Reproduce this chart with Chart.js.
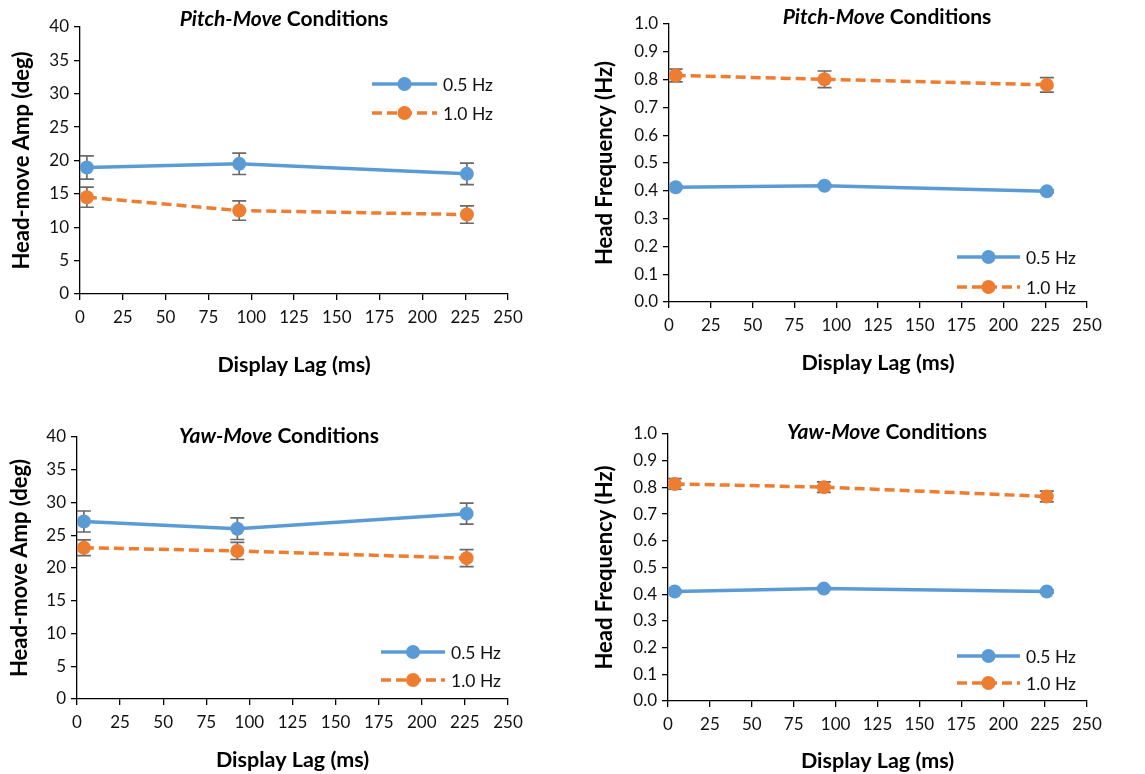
<!DOCTYPE html>
<html>
<head>
<meta charset="utf-8">
<script src="https://cdn.jsdelivr.net/npm/chart.js@4.4.1/dist/chart.umd.min.js"></script>
<style>
  body { margin: 0; background: #fff; }
  canvas { position: absolute; }
</style>
</head>
<body>
<canvas id="c1" width="572" height="385" style="left:0;top:0"></canvas>
<canvas id="c2" width="565" height="385" style="left:580px;top:0"></canvas>
<canvas id="c3" width="572" height="374" style="left:0;top:400px"></canvas>
<canvas id="c4" width="565" height="374" style="left:580px;top:400px"></canvas>
<script>
// display lag of the three conditions (ms)
const lagMs = [4, 93, 226];
const seriesLabels = ["0.5 Hz", "1.0 Hz"];

// pitch-move: head-move amplitude (deg) and SE
const pitchAmp05 = [18.95, 19.5, 18.0];
const pitchAmp05Err = [1.75, 1.6, 1.6];
const pitchAmp10 = [14.5, 12.5, 11.9];
const pitchAmp10Err = [1.5, 1.45, 1.3];

// pitch-move: head frequency (Hz)
const pitchFreq05 = [0.413, 0.418, 0.398];
const pitchFreq05Err = [0.005, 0.005, 0.005];
const pitchFreq10 = [0.815, 0.801, 0.781];
const pitchFreq10Err = [0.023, 0.03, 0.026];

// yaw-move: head-move amplitude (deg)
const yawAmp05 = [27.1, 26.0, 28.3];
const yawAmp05Err = [1.6, 1.65, 1.6];
const yawAmp10 = [23.1, 22.6, 21.5];
const yawAmp10Err = [1.2, 1.3, 1.3];

// yaw-move: head frequency (Hz)
const yawFreq05 = [0.41, 0.421, 0.41];
const yawFreq05Err = [0.005, 0.005, 0.005];
const yawFreq10 = [0.813, 0.801, 0.766];
const yawFreq10Err = [0.02, 0.02, 0.02];

const FONT = 'Lato, "Noto Sans", sans-serif';
const BLUE = "#5B9BD5";
const ORANGE = "#ED7D31";

const toPoints = (xs, ys) => xs.map((x, i) => ({ x: x, y: ys[i] }));

// vertical error bars with caps, drawn under the markers
const errorBars = {
    id: "errorBars",
    beforeDatasetsDraw(chart) {
        const ctx = chart.ctx;
        const xs = chart.scales.x, ys = chart.scales.y;
        ctx.save();
        ctx.strokeStyle = "#6a6a6a";
        ctx.lineWidth = 1.7;
        chart.data.datasets.forEach((ds) => {
            ds.data.forEach((p, i) => {
                const e = ds.err[i];
                const px = xs.getPixelForValue(p.x);
                const top = ys.getPixelForValue(p.y + e);
                const bot = ys.getPixelForValue(p.y - e);
                ctx.beginPath();
                ctx.moveTo(px, top); ctx.lineTo(px, bot);
                ctx.moveTo(px - 7, top); ctx.lineTo(px + 7, top);
                ctx.moveTo(px - 7, bot); ctx.lineTo(px + 7, bot);
                ctx.stroke();
            });
        });
        ctx.restore();
    },
};

// excel-style legend: line sample with a marker in the middle
const lineLegend = {
    id: "lineLegend",
    afterDraw(chart, args, opts) {
        const ctx = chart.ctx;
        chart.data.datasets.forEach((ds, i) => {
            const y = opts.y + i * opts.gap;
            ctx.save();
            ctx.strokeStyle = ds.borderColor;
            ctx.lineWidth = ds.borderWidth;
            ctx.setLineDash(ds.borderDash || []);
            ctx.beginPath();
            ctx.moveTo(opts.x, y);
            ctx.lineTo(opts.x + opts.len, y);
            ctx.stroke();
            ctx.setLineDash([]);
            ctx.fillStyle = ds.borderColor;
            ctx.beginPath();
            ctx.arc(opts.x + opts.len / 2, y, ds.pointRadius, 0, Math.PI * 2);
            ctx.fill();
            ctx.fillStyle = "#111";
            ctx.font = "17.5px " + FONT;
            ctx.textBaseline = "middle";
            ctx.fillText(ds.label, opts.x + opts.len + 6, y + 1);
            ctx.restore();
        });
    },
};

// title with an italic first part
const panelTitle = {
    id: "panelTitle",
    afterDraw(chart, args, opts) {
        const ctx = chart.ctx;
        const it = "italic bold 21px " + FONT, bd = "bold 21px " + FONT;
        ctx.save();
        ctx.font = it;
        const w1 = ctx.measureText(opts.italic).width;
        ctx.font = bd;
        const w2 = ctx.measureText(opts.rest).width;
        const x = opts.cx - (w1 + w2) / 2;
        ctx.fillStyle = "#000";
        ctx.textBaseline = "middle";
        ctx.font = it;
        ctx.fillText(opts.italic, x, opts.cy);
        ctx.font = bd;
        ctx.fillText(opts.rest, x + w1, opts.cy);
        ctx.restore();
    },
};

function axisGrid() {
    return {
        display: true,
        drawOnChartArea: false,
        drawTicks: true,
        tickLength: 6,
        color: "#000",
        lineWidth: 1.3,
    };
}

function makePanel(id, p) {
    new Chart(document.getElementById(id), {
        type: "line",
        data: {
            datasets: [
                {
                    label: seriesLabels[0],
                    data: toPoints(lagMs, p.slow),
                    err: p.slowErr,
                    borderColor: BLUE,
                    backgroundColor: BLUE,
                    pointBackgroundColor: BLUE,
                    borderWidth: 3.5,
                    pointRadius: 7,
                    pointBorderWidth: 0,
                },
                {
                    label: seriesLabels[1],
                    data: toPoints(lagMs, p.fast),
                    err: p.fastErr,
                    borderColor: ORANGE,
                    backgroundColor: ORANGE,
                    pointBackgroundColor: ORANGE,
                    borderWidth: 3.5,
                    borderDash: [10, 5],
                    pointRadius: 7,
                    pointBorderWidth: 0,
                },
            ],
        },
        options: {
            responsive: false,
            animation: false,
            layout: { padding: { top: p.top, right: p.right, left: 0, bottom: 0 } },
            plugins: {
                legend: { display: false },
                tooltip: { enabled: false },
                lineLegend: p.legend,
                panelTitle: p.title,
            },
            scales: {
                x: {
                    type: "linear",
                    min: 0,
                    max: 250,
                    grid: axisGrid(),
                    border: { color: "#000", width: 1.3 },
                    ticks: { stepSize: 25, color: "#111", padding: 7, maxRotation: 0, font: { family: FONT, size: 17 } },
                    title: {
                        display: true,
                        text: "Display Lag (ms)",
                        color: "#000",
                        font: { family: FONT, size: 21.5, weight: "bold" },
                        padding: { top: 0, bottom: p.xTitlePad },
                    },
                    afterFit: (s) => { s.height = p.xHeight; },
                },
                y: {
                    min: 0,
                    max: p.ymax,
                    grid: axisGrid(),
                    border: { color: "#000", width: 1.3 },
                    ticks: {
                        stepSize: p.ystep,
                        color: "#111",
                        padding: 5,
                        font: { family: FONT, size: 17 },
                        callback: (v) => (p.ymax === 1 ? v.toFixed(1) : v),
                    },
                    title: {
                        display: true,
                        text: p.yTitle,
                        color: "#000",
                        font: { family: FONT, size: 22, weight: "bold" },
                        padding: { top: p.yTitlePad, bottom: 0 },
                    },
                    afterFit: (s) => { s.width = p.yWidth; },
                },
            },
        },
        plugins: [errorBars, lineLegend, panelTitle],
    });
}

makePanel("c1", {
    slow: pitchAmp05, slowErr: pitchAmp05Err, fast: pitchAmp10, fastErr: pitchAmp10Err,
    ymax: 40, ystep: 5, yTitle: "Head-move Amp (deg)",
    top: 27, right: 64, yWidth: 80, xHeight: 91, xTitlePad: 7, yTitlePad: 9,
    legend: { x: 372, len: 65, y: 84, gap: 29 },
    title: { italic: "Pitch-Move", rest: " Conditions", cx: 284, cy: 19 },
});

makePanel("c2", {
    slow: pitchFreq05, slowErr: pitchFreq05Err, fast: pitchFreq10, fastErr: pitchFreq10Err,
    ymax: 1, ystep: 0.1, yTitle: "Head Frequency (Hz)",
    top: 24, right: 58, yWidth: 89, xHeight: 83, xTitlePad: 9, yTitlePad: 12,
    legend: { x: 377, len: 63, y: 257, gap: 30 },
    title: { italic: "Pitch-Move", rest: " Conditions", cx: 307, cy: 17 },
});

makePanel("c3", {
    slow: yawAmp05, slowErr: yawAmp05Err, fast: yawAmp10, fastErr: yawAmp10Err,
    ymax: 40, ystep: 5, yTitle: "Head-move Amp (deg)",
    top: 37, right: 64, yWidth: 77, xHeight: 75, xTitlePad: 1, yTitlePad: 7,
    legend: { x: 381, len: 64, y: 252, gap: 28 },
    title: { italic: "Yaw-Move", rest: " Conditions", cx: 279, cy: 36 },
});

makePanel("c4", {
    slow: yawFreq05, slowErr: yawFreq05Err, fast: yawFreq10, fastErr: yawFreq10Err,
    ymax: 1, ystep: 0.1, yTitle: "Head Frequency (Hz)",
    top: 34, right: 58, yWidth: 88, xHeight: 73, xTitlePad: 0, yTitlePad: 12,
    legend: { x: 377, len: 63, y: 256, gap: 27 },
    title: { italic: "Yaw-Move", rest: " Conditions", cx: 307, cy: 32 },
});
</script>
</body>
</html>
